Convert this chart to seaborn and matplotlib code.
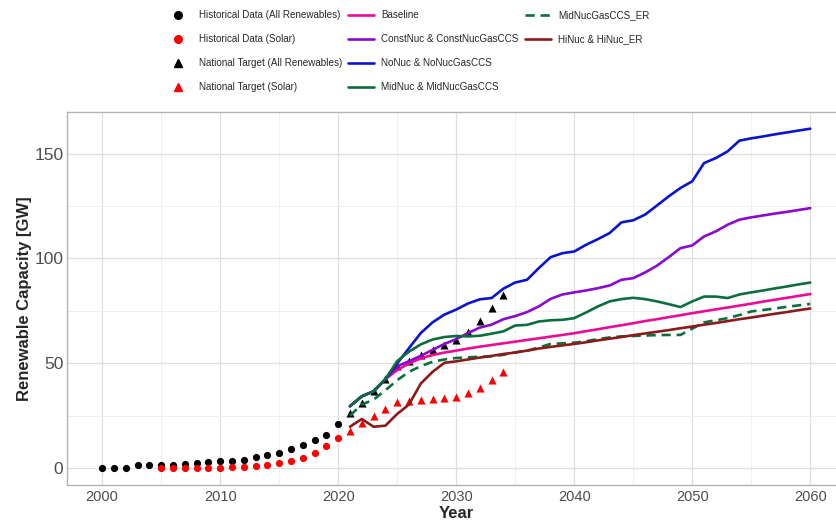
import numpy as np
import pandas as pd
import matplotlib
matplotlib.use("Agg")
import matplotlib.pyplot as plt
from matplotlib.lines import Line2D
from matplotlib.ticker import MultipleLocator
import seaborn as sns

# --- data ---
hist_years = list(range(2000, 2021))
hist_all = [0, 0, 0, 1.4, 1.5, 1.5, 1.6, 1.8, 2.4, 2.7, 3.2, 3.3, 4.0, 5.1, 6.0, 7.3,
            9.2, 10.8, 13.2, 15.8, 21.2]
solar_years = list(range(2005, 2021))
hist_solar = [0, 0, 0, 0, 0, 0, 0.3, 0.5, 0.8, 1.6, 2.4, 3.5, 4.9, 7.2, 10.4, 14.5]

target_years = list(range(2021, 2035))
target_all = [26.3, 31.1, 36.6, 42.4, 48.5, 51.0, 53.9, 56.2, 58.6, 61.2, 64.9, 70.2, 76.3, 82.6]
target_solar = [17.8, 21.5, 24.7, 28.2, 31.4, 32.1, 32.6, 33.0, 33.4, 33.8, 35.8, 38.3, 42.2, 45.9]

scen_years = list(range(2021, 2061))
baseline = [29.5, 34.2, 36.6, 42.4, 46.7, 49.9, 52.3, 53.9, 55.1, 56.0,
            57.0, 57.9, 58.7, 59.5, 60.3, 61.1, 61.9, 62.7, 63.5, 64.3,
            65.3, 66.2, 67.2, 68.1, 69.1, 70.1, 71.0, 72.0, 72.9, 73.9,
            74.8, 75.7, 76.6, 77.5, 78.4, 79.4, 80.3, 81.2, 82.1, 83.0]
const_nuc = [29.5, 34.2, 36.6, 42.4, 48.5, 51.0, 53.5, 56.4, 59.2, 61.5,
             64.4, 67.0, 68.4, 71.0, 72.5, 74.4, 77.1, 80.7, 82.8, 83.8,
             84.7, 85.8, 87.1, 89.8, 90.6, 93.3, 96.5, 100.6, 104.9, 106.2,
             110.5, 112.9, 116.1, 118.5, 119.6, 120.5, 121.4, 122.2, 123.1, 124.0]
no_nuc = [29.5, 34.2, 36.6, 42.4, 49.9, 57.2, 64.4, 69.5, 73.2, 75.6,
          78.5, 80.5, 81.1, 85.6, 88.5, 89.8, 95.4, 100.6, 102.5, 103.3,
          106.5, 109.2, 112.1, 117.2, 118.2, 120.9, 125.2, 129.6, 133.6, 136.8,
          145.5, 147.9, 151.1, 156.2, 157.3, 158.2, 159.2, 160.1, 161.0, 161.9]
mid_nuc = [29.5, 34.2, 36.6, 42.4, 51.0, 55.5, 59.0, 61.3, 62.5, 63.0,
           62.8, 63.1, 64.1, 65.2, 68.0, 68.3, 69.9, 70.5, 70.7, 71.5,
           74.2, 77.1, 79.5, 80.6, 81.2, 80.6, 79.5, 78.2, 76.8, 79.5,
           81.8, 81.8, 81.1, 82.8, 83.8, 84.7, 85.7, 86.6, 87.6, 88.5]
mid_er = [25.0, 30.3, 32.6, 37.1, 41.9, 45.9, 48.6, 50.7, 51.8, 52.5,
          52.8, 53.1, 53.3, 54.0, 55.2, 56.0, 57.5, 59.2, 59.5, 59.8,
          60.5, 61.5, 62.3, 62.8, 63.0, 63.2, 63.4, 63.5, 63.5, 66.5,
          69.5, 70.5, 71.5, 73.0, 74.7, 75.4, 76.1, 76.9, 77.6, 78.3]
hi_nuc = [19.7, 23.4, 19.7, 20.2, 25.8, 30.3, 40.3, 45.9, 50.2, 50.9,
          51.8, 52.7, 53.5, 54.4, 55.1, 56.0, 57.0, 57.8, 58.5, 59.2,
          60.0, 60.9, 61.7, 62.5, 63.4, 64.2, 65.0, 65.8, 66.7, 67.5,
          68.4, 69.2, 70.1, 71.0, 71.8, 72.7, 73.6, 74.4, 75.3, 76.1]

scenarios = ['Baseline', 'ConstNuc & ConstNucGasCCS', 'NoNuc & NoNucGasCCS',
             'MidNuc & MidNucGasCCS', 'MidNucGasCCS_ER', 'HiNuc & HiNuc_ER']
scen_values = [baseline, const_nuc, no_nuc, mid_nuc, mid_er, hi_nuc]
palette = {'Baseline': '#EC0C94',
           'ConstNuc & ConstNucGasCCS': '#8A0ACF',
           'NoNuc & NoNucGasCCS': '#0A14CC',
           'MidNuc & MidNucGasCCS': '#0B6E3C',
           'MidNucGasCCS_ER': '#0B6E3C',
           'HiNuc & HiNuc_ER': '#8B1A1A'}
DASH = (3.5, 2.2)
dash_map = {s: '' for s in scenarios}
dash_map['MidNucGasCCS_ER'] = DASH

scen_df = pd.DataFrame({
    'Year': scen_years * len(scenarios),
    'Capacity': sum(scen_values, []),
    'Scenario': np.repeat(scenarios, len(scen_years)),
})

sns.set_theme(style="whitegrid")
plt.rcParams['font.family'] = ['Liberation Sans', 'DejaVu Sans']

fig = plt.figure(figsize=(8.37, 5.23), dpi=100)
ax = fig.add_axes([66.7 / 837, 1 - 485 / 523, 779 / 837, 373.5 / 523])

sns.lineplot(data=scen_df, x='Year', y='Capacity', hue='Scenario', style='Scenario',
             hue_order=scenarios, style_order=scenarios, palette=palette,
             dashes=dash_map, linewidth=1.9, legend=False, ax=ax)

sns.scatterplot(x=hist_years, y=hist_all, color='black', marker='o', s=27, linewidth=0, ax=ax)
sns.scatterplot(x=solar_years, y=hist_solar, color='red', marker='o', s=27, linewidth=0, ax=ax)
sns.scatterplot(x=target_years, y=target_all, color='black', marker='^', s=34, linewidth=0, ax=ax)
sns.scatterplot(x=target_years, y=target_solar, color='red', marker='^', s=34, linewidth=0, ax=ax)

ax.set_xlim(1997, 2063)
ax.set_ylim(-8.1, 170.1)
ax.xaxis.set_major_locator(MultipleLocator(10))
ax.xaxis.set_minor_locator(MultipleLocator(5))
ax.yaxis.set_major_locator(MultipleLocator(50))
ax.yaxis.set_minor_locator(MultipleLocator(25))
ax.grid(which='major', color='#DEDEDE', linewidth=0.9)
ax.grid(which='minor', color='#EDEDED', linewidth=0.6)
ax.set_axisbelow(True)
for sp in ax.spines.values():
    sp.set_color('#B3B3B3')
    sp.set_linewidth(1.0)
ax.tick_params(axis='both', which='major', length=2.2, width=0.7, color='#B3B3B3',
               labelcolor='#4D4D4D', pad=1.2)
ax.tick_params(axis='y', pad=0.2)
ax.tick_params(axis='both', which='minor', length=0)
ax.tick_params(axis='x', labelsize=10.5)
ax.tick_params(axis='y', labelsize=12.5)
ax.set_xlabel('Year', fontsize=12, fontweight='bold', labelpad=2)
ax.set_ylabel('Renewable Capacity [GW]', fontsize=12, fontweight='bold', labelpad=1.5)

handles = [
    Line2D([], [], color='black', marker='o', linestyle='None', markersize=5.5),
    Line2D([], [], color='red', marker='o', linestyle='None', markersize=5.5),
    Line2D([], [], color='black', marker='^', linestyle='None', markersize=6),
    Line2D([], [], color='red', marker='^', linestyle='None', markersize=6),
]
labels = ['Historical Data (All Renewables)', 'Historical Data (Solar)',
          'National Target (All Renewables)', 'National Target (Solar)']
for s in scenarios:
    ls = (0, DASH) if s == 'MidNucGasCCS_ER' else '-'
    handles.append(Line2D([], [], color=palette[s], linewidth=1.9, linestyle=ls))
    labels.append(s)
# two empty slots so the columns fill 4 / 4 / 2
for _ in range(2):
    handles.append(Line2D([], [], linestyle='None'))
    labels.append('')

fig.legend(handles, labels, ncol=3, loc='upper left', bbox_to_anchor=(165 / 837, 1 - 10 / 523),
           frameon=False, fontsize=7.1, handlelength=2.65, handletextpad=0.75,
           columnspacing=0.6, labelspacing=1.42, borderpad=0, borderaxespad=0)

fig.savefig('out.png', dpi=100)
